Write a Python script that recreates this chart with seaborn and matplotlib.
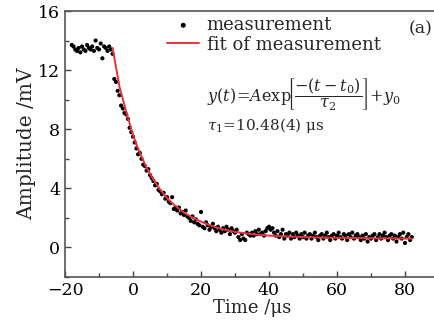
import matplotlib
matplotlib.use("Agg")
import matplotlib.pyplot as plt
import seaborn as sns
import pandas as pd

# measurement data (time in us, amplitude in mV)
meas_t = [
    -18, -17.5, -17, -16.5, -16, -15.5, -15, -14.5, -14, -13.5,
    -13, -12.5, -12, -11.5, -11, -10.5, -10, -9.5, -9, -8.5,
    -8, -7.5, -7, -6.5, -6, -5.5, -5, -4.5, -4, -3.5,
    -3, -2.5, -2, -1.5, -1, -0.5, 0, 0.5, 1, 1.5,
    2, 2.5, 3, 3.5, 4, 4.5, 5, 5.5, 6, 6.5,
    7, 7.5, 8, 8.5, 9, 9.5, 10, 10.5, 11, 11.5,
    12, 12.5, 13, 13.5, 14, 14.5, 15, 15.5, 16, 16.5,
    17, 17.5, 18, 18.5, 19, 19.5, 20, 20.5, 21, 21.5,
    22, 22.5, 23, 23.5, 24, 24.5, 25, 25.5, 26, 26.5,
    27, 27.5, 28, 28.5, 29, 29.5, 30, 30.5, 31, 31.5,
    32, 32.5, 33, 33.5, 34, 34.5, 35, 35.5, 36, 36.5,
    37, 37.5, 38, 38.5, 39, 39.5, 40, 40.5, 41, 41.5,
    42, 42.5, 43, 43.5, 44, 44.5, 45, 45.5, 46, 46.5,
    47, 47.5, 48, 48.5, 49, 49.5, 50, 50.5, 51, 51.5,
    52, 52.5, 53, 53.5, 54, 54.5, 55, 55.5, 56, 56.5,
    57, 57.5, 58, 58.5, 59, 59.5, 60, 60.5, 61, 61.5,
    62, 62.5, 63, 63.5, 64, 64.5, 65, 65.5, 66, 66.5,
    67, 67.5, 68, 68.5, 69, 69.5, 70, 70.5, 71, 71.5,
    72, 72.5, 73, 73.5, 74, 74.5, 75, 75.5, 76, 76.5,
    77, 77.5, 78, 78.5, 79, 79.5, 80, 80.5, 81, 81.5,
    82,
]
meas_v = [
    13.7, 13.6, 13.4, 13.3, 13.5, 13.2, 13.6, 13.4, 13.3, 13.7,
    13.5, 13.4, 13.6, 13.3, 14.0, 13.5, 13.4, 13.8, 12.8, 13.6,
    13.5, 13.3, 13.6, 13.4, 13.1, 11.4, 11.2, 10.6, 10.3, 9.6,
    9.4, 9.1, 9.0, 8.7, 8.1, 7.8, 7.5, 7.1, 6.7, 6.3,
    6.4, 6.0, 5.6, 5.5, 5.2, 5.3, 4.9, 4.7, 4.5, 4.2,
    4.3, 3.9, 3.8, 3.6, 3.7, 3.3, 3.4, 3.1, 3.0, 3.4,
    2.6, 2.7, 2.5, 2.7, 2.3, 2.4, 2.2, 2.5, 2.1, 2.0,
    1.8, 2.1, 1.7, 1.9, 1.6, 1.5, 2.4, 1.4, 1.3, 1.7,
    1.5, 1.2, 1.4, 1.6, 1.3, 1.1, 1.4, 1.2, 1.0, 1.3,
    1.1, 1.4, 1.2, 0.9, 1.3, 1.1, 1.0, 1.2, 0.7, 0.5,
    0.9, 0.6, 0.5, 1.0, 0.9, 0.8, 1.0, 0.8, 1.1, 0.9,
    1.2, 0.9, 1.0, 0.8, 1.1, 1.3, 1.4, 1.2, 1.3, 1.0,
    0.8, 1.1, 0.7, 0.9, 1.2, 0.6, 0.9, 0.8, 1.0, 0.6,
    0.9, 0.7, 1.0, 0.8, 0.6, 0.9, 0.7, 1.0, 0.6, 0.8,
    0.9, 0.6, 0.8, 1.0, 0.7, 0.5, 0.8, 0.9, 0.6, 0.8,
    1.0, 0.7, 0.5, 0.8, 0.9, 0.6, 0.8, 1.0, 0.7, 0.6,
    0.9, 0.8, 0.5, 0.9, 0.7, 1.0, 0.6, 0.8, 0.9, 0.7,
    0.5, 0.8, 0.6, 0.9, 0.4, 0.7, 0.6, 0.8, 0.9, 0.5,
    0.7, 0.9, 0.6, 0.8, 1.0, 0.7, 0.5, 0.8, 0.9, 0.6,
    0.8, 0.4, 0.7, 0.9, 0.6, 1.0, 0.3, 0.7, 0.9, 0.5,
    0.7,
]

# fitted curve
fit_t = [-6, -4, -2, 0, 2, 4, 6, 8, 10, 12, 15, 18, 22, 26, 30, 35, 40, 50, 60, 70, 82]
fit_v = [13.5, 10.9, 9.2, 7.6, 6.4, 5.4, 4.6, 3.9, 3.35, 2.9, 2.35, 1.95, 1.55,
         1.25, 1.05, 0.9, 0.8, 0.7, 0.65, 0.62, 0.6]

x_ticks = [-20, 0, 20, 40, 60, 80]
y_ticks = [0, 4, 8, 12, 16]

sns.set_style("ticks")
plt.rcParams["font.family"] = ["DejaVu Serif"]
plt.rcParams["mathtext.fontset"] = "dejavuserif"

meas = pd.DataFrame({"t": meas_t, "v": meas_v})
fit = pd.DataFrame({"t": fit_t, "v": fit_v})

fig = plt.figure(figsize=(4.35, 3.30), dpi=100)
ax = fig.add_axes([65 / 435, 53 / 330, 374 / 435, 266 / 330])

sns.scatterplot(data=meas, x="t", y="v", ax=ax, color="black", s=9,
                edgecolor="none", label="measurement", zorder=3)
sns.lineplot(data=fit, x="t", y="v", ax=ax, color="#e8323c", linewidth=1.4,
             label="fit of measurement", zorder=4)

ax.set_xlim(-20, 90)
ax.set_ylim(-2, 16)
ax.set_xticks(x_ticks)
ax.set_yticks(y_ticks)
ax.set_xticks([-10, 10, 30, 50, 70, 90], minor=True)
ax.set_yticks([-2, 2, 6, 10, 14], minor=True)
ax.tick_params(which="both", direction="in", labelsize=12.5, colors="#444444",
               labelcolor="black", width=1.0)
ax.tick_params(which="major", length=4)
ax.tick_params(which="minor", length=3)
ax.set_xticklabels([str(v).replace("-", "\u2212") for v in x_ticks])
for sp in ["left", "bottom", "top"]:
    ax.spines[sp].set_color("#555555")
    ax.spines[sp].set_linewidth(1.2)
ax.spines["right"].set_visible(False)

ax.set_xlabel("Time /\u03bcs", fontsize=13, labelpad=0)
ax.set_ylabel("Amplitude /mV", fontsize=14.5, labelpad=1)

leg = ax.legend(loc="upper left", bbox_to_anchor=(167 / 435, 1 - 16 / 330),
                bbox_transform=fig.transFigure, frameon=False, fontsize=13,
                handlelength=1.8, handletextpad=0.4, borderpad=0, borderaxespad=0,
                labelspacing=0.1, markerscale=1.2)

fig.text(207 / 435, 1 - 102 / 330,
         r"$y(t)\!=\!A\mathrm{exp}\!\left[\dfrac{-(t-t_0)}{\tau_2}\right]\!+\!y_0$",
         fontsize=11.5, ha="left", va="baseline")
fig.text(207 / 435, 1 - 130 / 330, "$\\tau_1$=10.48(4) \u03bcs",
         fontsize=11, ha="left", va="baseline")
fig.text(433 / 435, 1 - 33 / 330, "(a)", fontsize=12.5, ha="right", va="baseline")

fig.savefig("out.png", dpi=100)
